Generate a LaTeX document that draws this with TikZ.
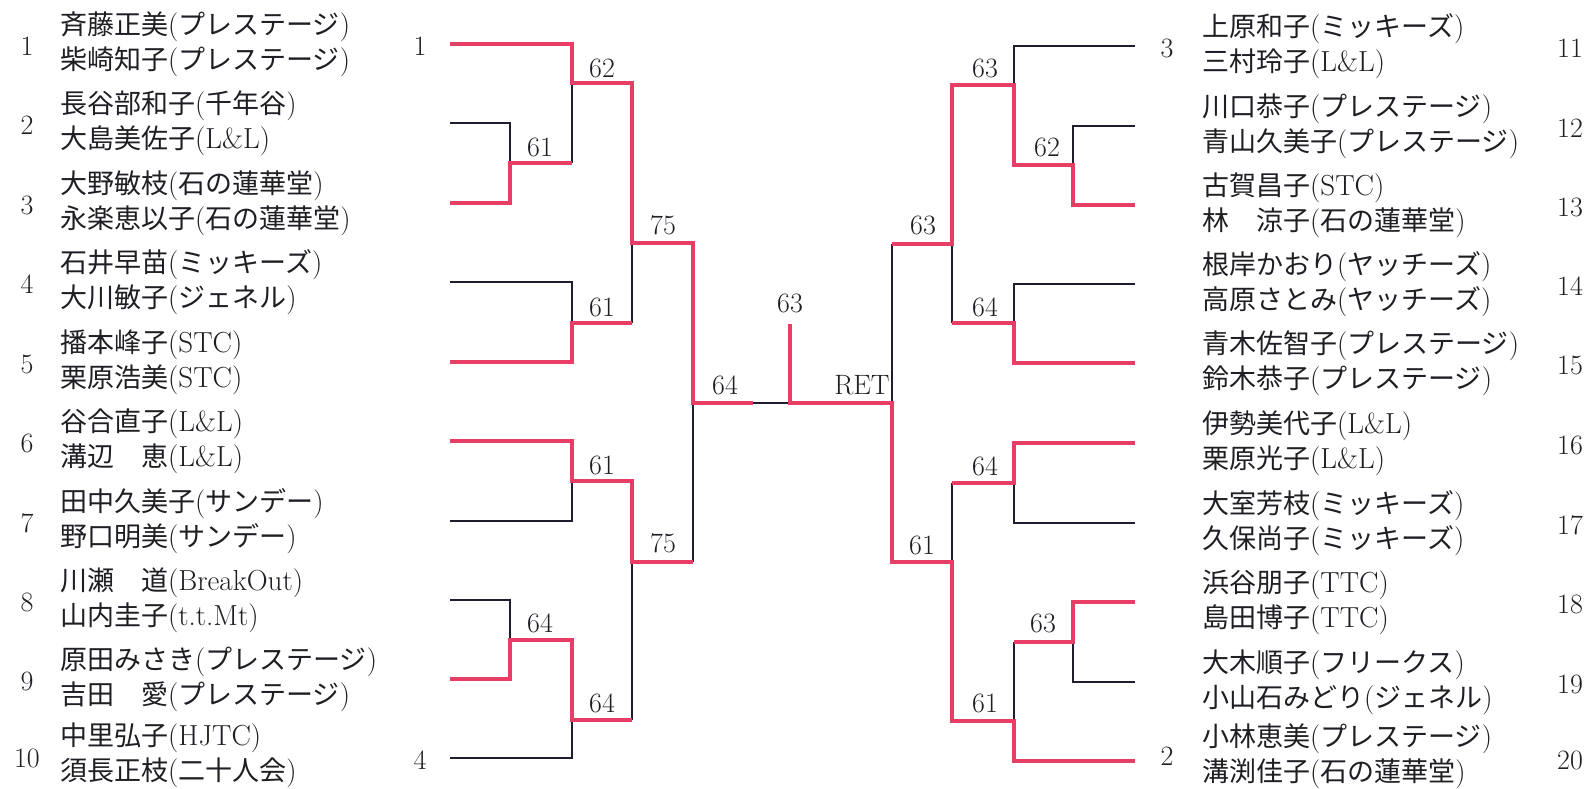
\documentclass[tikz,border=0pt]{standalone}
\usepackage{fontspec}
\newfontfamily\cjkfont{Noto Sans CJK JP}
\newcommand\JP[1]{{\cjkfont\fontsize{27}{35}\selectfont #1}}
\definecolor{win}{RGB}{232,62,102}
\definecolor{lose}{RGB}{30,30,48}
\definecolor{ink}{RGB}{30,30,36}
\begin{document}
\begin{tikzpicture}[x=1pt,y=-1pt,
  pname/.style={anchor=west,inner sep=0pt,align=left,font=\fontsize{29}{35}\selectfont,text=ink},
  pnum/.style={inner sep=0pt,font=\fontsize{28}{30}\selectfont,text=ink},
  score/.style={inner sep=0pt,font=\fontsize{28}{30}\selectfont,text=ink},
  winline/.style={draw=win,line width=3.8pt,line join=miter},
  loseline/.style={draw=lose,line width=2pt,line join=miter}]
\useasboundingbox[fill=white] (0,0) rectangle (1593,788);

% ---------- left names ----------
\node[pnum] (l1) at (27,46) {1};
\node[pname] (n1) at (60,44) {\JP{斉藤正美}(\JP{プレステージ})\\\JP{柴崎知子}(\JP{プレステージ})};
\node[pnum] (l2) at (27,125) {2};
\node[pname] (n2) at (60,123) {\JP{長谷部和子}(\JP{千年谷})\\\JP{大島美佐子}(L\&L)};
\node[pnum] (l3) at (27,205) {3};
\node[pname] (n3) at (60,203) {\JP{大野敏枝}(\JP{石の蓮華堂})\\\JP{永楽恵以子}(\JP{石の蓮華堂})};
\node[pnum] (l4) at (27,284) {4};
\node[pname] (n4) at (60,282) {\JP{石井早苗}(\JP{ミッキーズ})\\\JP{大川敏子}(\JP{ジェネル})};
\node[pnum] (l5) at (27,364) {5};
\node[pname] (n5) at (60,362) {\JP{播本峰子}(STC)\\\JP{栗原浩美}(STC)};
\node[pnum] (l6) at (27,443) {6};
\node[pname] (n6) at (60,441) {\JP{谷合直子}(L\&L)\\\JP{溝辺　恵}(L\&L)};
\node[pnum] (l7) at (27,523) {7};
\node[pname] (n7) at (60,521) {\JP{田中久美子}(\JP{サンデー})\\\JP{野口明美}(\JP{サンデー})};
\node[pnum] (l8) at (27,602) {8};
\node[pname] (n8) at (60,600) {\JP{川瀬　道}(BreakOut)\\\JP{山内圭子}(t.t.Mt)};
\node[pnum] (l9) at (27,681) {9};
\node[pname] (n9) at (60,679) {\JP{原田みさき}(\JP{プレステージ})\\\JP{吉田　愛}(\JP{プレステージ})};
\node[pnum] (l10) at (27,758) {10};
\node[pname] (n10) at (60,755) {\JP{中里弘子}(HJTC)\\\JP{須長正枝}(\JP{二十人会})};

% ---------- right names ----------
\node[pname] (n11) at (1202,46) {\JP{上原和子}(\JP{ミッキーズ})\\\JP{三村玲子}(L\&L)};
\node[pnum] (r11) at (1570,48) {11};
\node[pname] (n12) at (1202,126) {\JP{川口恭子}(\JP{プレステージ})\\\JP{青山久美子}(\JP{プレステージ})};
\node[pnum] (r12) at (1570,128) {12};
\node[pname] (n13) at (1202,205) {\JP{古賀昌子}(STC)\\\JP{林　涼子}(\JP{石の蓮華堂})};
\node[pnum] (r13) at (1570,207) {13};
\node[pname] (n14) at (1202,284) {\JP{根岸かおり}(\JP{ヤッチーズ})\\\JP{高原さとみ}(\JP{ヤッチーズ})};
\node[pnum] (r14) at (1570,286) {14};
\node[pname] (n15) at (1202,363) {\JP{青木佐智子}(\JP{プレステージ})\\\JP{鈴木恭子}(\JP{プレステージ})};
\node[pnum] (r15) at (1570,365) {15};
\node[pname] (n16) at (1202,443) {\JP{伊勢美代子}(L\&L)\\\JP{栗原光子}(L\&L)};
\node[pnum] (r16) at (1570,445) {16};
\node[pname] (n17) at (1202,523) {\JP{大室芳枝}(\JP{ミッキーズ})\\\JP{久保尚子}(\JP{ミッキーズ})};
\node[pnum] (r17) at (1570,525) {17};
\node[pname] (n18) at (1202,602) {\JP{浜谷朋子}(TTC)\\\JP{島田博子}(TTC)};
\node[pnum] (r18) at (1570,604) {18};
\node[pname] (n19) at (1202,682) {\JP{大木順子}(\JP{フリークス})\\\JP{小山石みどり}(\JP{ジェネル})};
\node[pnum] (r19) at (1570,684) {19};
\node[pname] (n20) at (1202,756) {\JP{小林恵美}(\JP{プレステージ})\\\JP{溝渕佳子}(\JP{石の蓮華堂})};
\node[pnum] (r20) at (1570,760) {20};

% ---------- seed labels ----------
\node[pnum] (s1) at (420,46) {1};
\node[pnum] (s4) at (420,760) {4};
\node[pnum] (s3) at (1167,48) {3};
\node[pnum] (s2) at (1167,756) {2};

% ---------- losing (black) lines ----------
\draw[loseline] (450,123) -- (510,123) -- (510,163);
\draw[loseline] (450,282) -- (572,282) -- (572,323);
\draw[loseline] (572,83) -- (572,163);
\draw[loseline] (632,243) -- (632,323);
\draw[loseline] (450,521) -- (572,521) -- (572,481);
\draw[loseline] (450,600) -- (510,600) -- (510,640);
\draw[loseline] (450,758) -- (572,758) -- (572,720);
\draw[loseline] (632,562) -- (632,720);
\draw[loseline] (693,403) -- (693,562);
\draw[loseline] (753,403) -- (790,403);
\draw[loseline] (1135,46) -- (1014,46) -- (1014,85);
\draw[loseline] (1135,126) -- (1073,126) -- (1073,165);
\draw[loseline] (1135,284) -- (1014,284) -- (1014,323);
\draw[loseline] (952,244) -- (952,323);
\draw[loseline] (892,244) -- (892,403);
\draw[loseline] (1135,523) -- (1014,523) -- (1014,483);
\draw[loseline] (952,483) -- (952,562);
\draw[loseline] (1135,682) -- (1073,682) -- (1073,642);
\draw[loseline] (1014,642) -- (1014,721);

% ---------- winning (red) lines ----------
\draw[winline] (450,44) -- (572,44) -- (572,83) -- (632,83) -- (632,243) -- (693,243) -- (693,403) -- (753,403);
\draw[winline] (450,203) -- (510,203) -- (510,163) -- (572,163);
\draw[winline] (450,362) -- (572,362) -- (572,323) -- (632,323);
\draw[winline] (450,441) -- (572,441) -- (572,481) -- (632,481) -- (632,562) -- (693,562);
\draw[winline] (450,679) -- (510,679) -- (510,640) -- (572,640) -- (572,720) -- (632,720);
\draw[winline] (790,324) -- (790,403) -- (892,403) -- (892,562) -- (952,562) -- (952,721) -- (1014,721) -- (1014,761) -- (1135,761);
\draw[winline] (1135,205) -- (1073,205) -- (1073,165) -- (1014,165) -- (1014,85) -- (952,85) -- (952,244) -- (892,244);
\draw[winline] (1135,363) -- (1014,363) -- (1014,323) -- (952,323);
\draw[winline] (1135,443) -- (1014,443) -- (1014,483) -- (952,483);
\draw[winline] (1135,602) -- (1073,602) -- (1073,642) -- (1014,642);

% ---------- scores ----------
\node[score] (a1) at (602,68) {62};
\node[score] (a2) at (540,147) {61};
\node[score] (a3) at (663,225) {75};
\node[score] (a4) at (602,307) {61};
\node[score] (a5) at (602,465) {61};
\node[score] (a6) at (663,543) {75};
\node[score] (a7) at (540,623) {64};
\node[score] (a8) at (602,703) {64};
\node[score] (a9) at (725,385) {64};
\node[score] (f) at (790,303) {63};
\node[score] (ret) at (862,385) {RET};
\node[score] (b1) at (985,68) {63};
\node[score] (b2) at (1047,147) {62};
\node[score] (b3) at (923,225) {63};
\node[score] (b4) at (985,307) {64};
\node[score] (b5) at (922,545) {61};
\node[score] (b6) at (985,466) {64};
\node[score] (b7) at (1043,623) {63};
\node[score] (b8) at (985,703) {61};
\end{tikzpicture}
\end{document}
